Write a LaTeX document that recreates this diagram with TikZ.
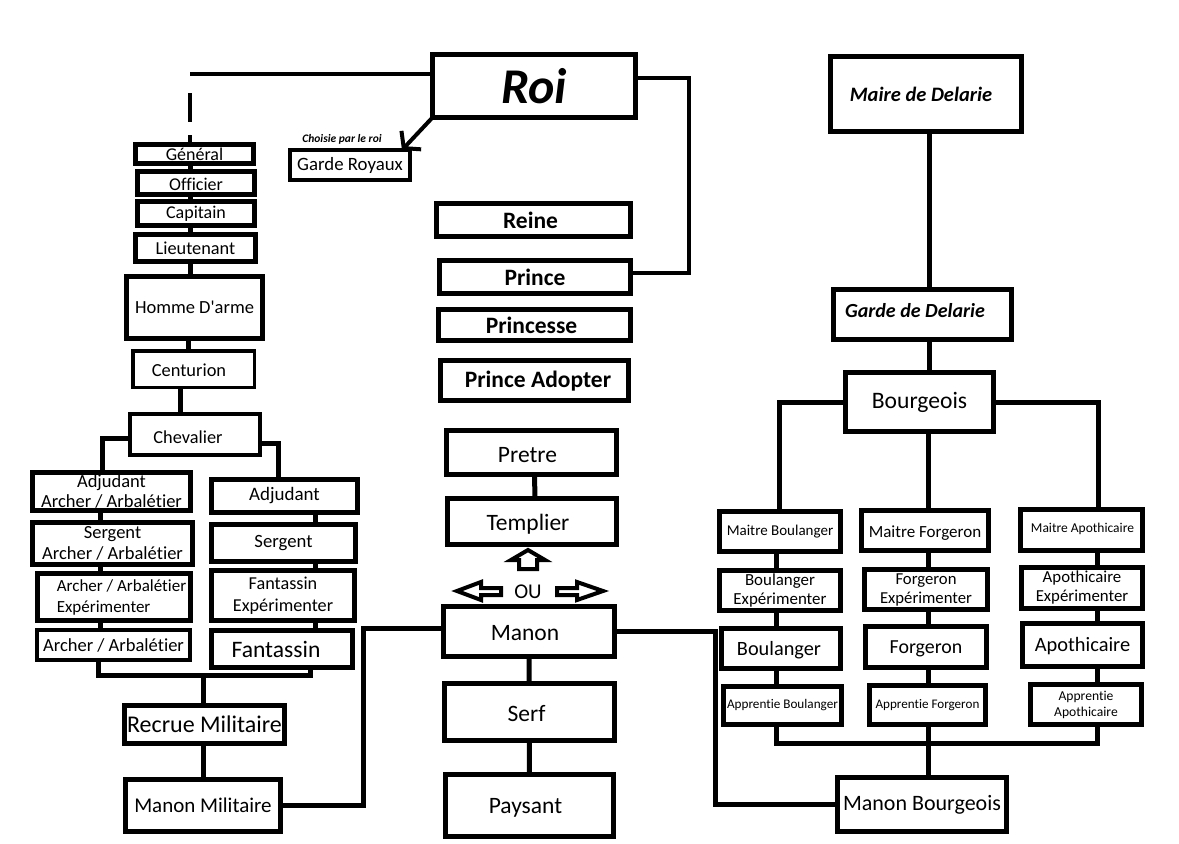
\documentclass[tikz,border=0pt]{standalone}
\usepackage{fontspec}
\setmainfont{Carlito}[Ligatures=NoCommon]
\usetikzlibrary{arrows.meta,backgrounds}
\newcommand\myfs[2]{\fontsize{#1}{#2}\selectfont}
\newcommand\mv[3]{\hspace*{#1}\raisebox{#2}[\height][\depth]{#3}}
\tikzset{
  box/.style={draw, line width=5pt, fill=white, inner sep=0pt, outer sep=0pt, align=center},
  conn/.style={line width=5pt},
  thinc/.style={line width=3.5pt},
  blockarrow/.style={draw, line width=4pt, line join=miter, fill=white},
}
\begin{document}
\begin{tikzpicture}[x=1pt,y=-1pt]
\useasboundingbox (0,0) rectangle (1179,844);
% ---------- top / royal ----------
\node[box, minimum width=203pt, minimum height=63pt, font=\myfs{50}{50}\bfseries\itshape] (Roi) at (534,86) {Roi};
\node[box, line width=4pt, minimum width=120pt, minimum height=30pt, font=\myfs{18.8}{20}] (GR) at (350,165) {Garde Royaux};
\node[inner sep=0pt, font=\myfs{11.5}{12}\bfseries\itshape] (ch) at (342,139) {Choisie par le roi};
% ---------- left military column ----------
\node[box, minimum width=118pt, minimum height=19pt, font=\myfs{18}{19}] (Gen) at (194.5,154) {Général};
\node[box, minimum width=117pt, minimum height=23pt, font=\myfs{18}{19}] (Off) at (196,183) {\mv{0pt}{-1.5pt}{Officier}};
\node[box, minimum width=117pt, minimum height=24pt, font=\myfs{18}{19}] (Cap) at (196,213.5) {Capitain};
\node[box, minimum width=120pt, minimum height=27pt, font=\myfs{18.3}{19}] (Lt) at (195.5,248) {Lieutenant};
\node[box, minimum width=136pt, minimum height=62pt, font=\myfs{18.5}{19}] (HA) at (194.5,307.5) {Homme D\textquotesingle arme};
\node[box, line width=3.5pt, minimum width=121.5pt, minimum height=36.5pt, font=\myfs{18.4}{19}] (Cen) at (193.5,369) {\mv{-9pt}{-1.5pt}{Centurion}};
\node[box, line width=4pt, minimum width=130pt, minimum height=41pt, font=\myfs{18.3}{19}] (Chev) at (195,434.5) {\mv{-14pt}{-3pt}{Chevalier}};
\node[box, minimum width=158pt, minimum height=38pt, font=\myfs{18.5}{20}] (AdjA) at (111.5,491.5) {Adjudant\\Archer / Arbalétier};
\node[box, minimum width=160pt, minimum height=42pt, font=\myfs{18.5}{21}] (SgtA) at (112.5,543.5) {Sergent\\Archer / Arbalétier};
\node[box, align=left, minimum width=153pt, minimum height=47pt, font=\myfs{17}{21}] (ExpA) at (114,597) {\hspace*{15pt}Archer / Arbalétier\\\hspace*{15pt}Expérimenter};
\node[box, line width=4pt, minimum width=153pt, minimum height=30pt, font=\myfs{18.5}{19}] (ArchA) at (113.5,645) {Archer / Arbalétier};
\node[box, minimum width=146pt, minimum height=33pt, font=\myfs{19}{20}] (Adj) at (284.5,496) {Adjudant};
\node[box, minimum width=144pt, minimum height=37pt, font=\myfs{18.7}{20}] (Sgt) at (283.5,543) {Sergent};
\node[box, minimum width=143pt, minimum height=50pt, font=\myfs{18.2}{22}] (FantE) at (283,595.5) {Fantassin\\Expérimenter};
\node[box, minimum width=141pt, minimum height=37pt, font=\myfs{23.6}{24}] (Fant) at (282,649) {\mv{-12pt}{0pt}{Fantassin}};
\node[box, minimum width=160pt, minimum height=38pt, font=\myfs{24}{25}] (Rec) at (204.5,724.5) {Recrue Militaire};
\node[box, minimum width=155pt, minimum height=52pt, font=\myfs{21}{22}] (MMil) at (203,805.5) {Manon Militaire};
% ---------- centre ----------
\node[box, minimum width=194pt, minimum height=33pt, font=\myfs{23.5}{24}\bfseries] (Reine) at (533.5,220) {\mv{-6pt}{0pt}{Reine}};
\node[box, minimum width=191pt, minimum height=33pt, font=\myfs{23.5}{24}\bfseries] (Prince) at (535,277) {Prince};
\node[box, minimum width=192pt, minimum height=31pt, font=\myfs{23.5}{24}\bfseries] (Princesse) at (534.5,325) {\mv{-6pt}{0pt}{Princesse}};
\node[box, minimum width=188pt, minimum height=40pt, font=\myfs{23.5}{24}\bfseries] (PA) at (534.5,380.5) {\mv{7pt}{-1pt}{Prince Adopter}};
\node[box, minimum width=170pt, minimum height=44pt, font=\myfs{23.5}{24}] (Pretre) at (531.5,452.5) {\mv{-8pt}{-2.5pt}{Pretre}};
\node[box, minimum width=169pt, minimum height=46pt, font=\myfs{23.5}{24}] (Templier) at (532,521.5) {\mv{-8pt}{-2.5pt}{Templier}};
\node[box, minimum width=171pt, minimum height=50pt, font=\myfs{23.5}{24}] (Manon) at (529,631.5) {\mv{-8pt}{-1.5pt}{Manon}};
\node[box, minimum width=170pt, minimum height=57pt, font=\myfs{23.5}{24}] (Serf) at (529.5,712) {\mv{-6pt}{-1.5pt}{Serf}};
\node[box, minimum width=168pt, minimum height=62pt, font=\myfs{23.5}{24}] (Pays) at (529.5,805.5) {\mv{-8pt}{-2pt}{Paysant}};
\node[inner sep=0pt, font=\myfs{21}{22}] (OU) at (528,592) {OU};
% ---------- right / bourgeois ----------
\node[box, minimum width=191pt, minimum height=75pt, font=\myfs{20.5}{21}\bfseries\itshape] (Maire) at (926,94) {\mv{-10pt}{0pt}{Maire de Delarie}};
\node[box, minimum width=178pt, minimum height=50pt, font=\myfs{20}{21}\bfseries\itshape] (GardeD) at (922.5,314.5) {\mv{-15pt}{3.5pt}{Garde de Delarie}};
\node[box, minimum width=148pt, minimum height=59pt, font=\myfs{23.6}{24}] (Bourg) at (919.5,402) {Bourgeois};
\node[box, minimum width=121pt, minimum height=40pt, font=\myfs{15}{16}] (MB) at (780,531.5) {Maitre Boulanger};
\node[box, minimum width=121pt, minimum height=40pt, font=\myfs{16.9}{19}] (BE) at (780,590.5) {Boulanger\\Expérimenter};
\node[box, minimum width=119pt, minimum height=40pt, font=\myfs{20.3}{21}] (Bl) at (781,648.5) {\mv{-4pt}{-2pt}{Boulanger}};
\node[box, minimum width=118pt, minimum height=38pt, font=\myfs{13.2}{14}] (AB) at (782.5,705.5) {Apprentie Boulanger};
\node[box, minimum width=127pt, minimum height=40pt, font=\myfs{17}{18}] (MF) at (925,530.5) {\mv{0pt}{-3pt}{Maitre Forgeron}};
\node[box, minimum width=123pt, minimum height=40pt, font=\myfs{16.7}{19}] (FE) at (926,589.5) {Forgeron\\Expérimenter};
\node[box, minimum width=121pt, minimum height=41pt, font=\myfs{19.9}{21}] (Fg) at (926,647) {\mv{0pt}{-1.5pt}{Forgeron}};
\node[box, minimum width=116pt, minimum height=39pt, font=\myfs{13.1}{14}] (AF) at (927.5,705) {Apprentie Forgeron};
\node[box, minimum width=122pt, minimum height=41pt, font=\myfs{13.5}{14}] (MA) at (1081.5,530) {\mv{2pt}{1pt}{Maitre Apothicaire}};
\node[box, minimum width=121pt, minimum height=41pt, font=\myfs{16.8}{19}] (AE) at (1082,588) {Apothicaire\\Expérimenter};
\node[box, minimum width=120pt, minimum height=43pt, font=\myfs{20.4}{21}] (Ap) at (1082.5,645) {\mv{0pt}{-1pt}{Apothicaire}};
\node[box, minimum width=111pt, minimum height=40pt, font=\myfs{13.6}{16}] (AA) at (1086,704.5) {Apprentie\\Apothicaire};
\node[box, minimum width=169pt, minimum height=54pt, font=\myfs{22}{23}] (MB2) at (922,804.5) {Manon Bourgeois};
% ---------- connectors (behind boxes) ----------
\begin{pgfonlayer}{background}
\fill[white] (0,0) rectangle (1179,844);
\coordinate (kL) at (190,74);
\draw[thinc] ([yshift=12pt]Roi.west) -- (kL);
\draw[thinc, dash pattern=on 0pt off 19pt on 29pt off 13pt on 40pt] (kL) -- (Gen.north -| kL);
\draw[conn] (Gen.south -| kL) -- (HA.north -| kL);
\coordinate (x188) at (188,0);
\draw[conn] (HA.south -| x188) -- (Cen.north -| x188);
\coordinate (x180) at (180,0);
\draw[conn] (Cen.south -| x180) -- (Chev.north -| x180);
\draw[conn] ([yshift=-3.5pt]Chev.west) -| ([xshift=-9.5pt]AdjA.north);
\draw[conn] ([yshift=-8.5pt]Chev.east) -| ([xshift=-6.5pt]Adj.north);
\coordinate (xL) at (100,0);
\draw[conn] (AdjA.south -| xL) -- (ArchA.north -| xL);
\coordinate (xR) at (315,0);
\draw[conn] (Adj.south -| xR) -- (Fant.north -| xR);
\coordinate (bL) at (98,675);
\coordinate (bR) at (310,675);
\coordinate (bC) at (203,675);
\draw[conn] (ArchA.south -| bL) -- (bL) -- (bR) -- (Fant.south -| bR);
\draw[conn] (bC) -- (Rec.north -| bC);
\draw[conn] (Rec.south -| bC) -- (MMil.north -| bC);
\coordinate (mL) at (363,628);
\draw[conn] (MMil.east) -| (mL) -- (Manon.west |- mL);
\coordinate (mR) at (715,700);
\draw[conn] (Manon.east) -| (mR) |- (MB2.west);
\draw[conn] (Manon) -- (Pays);
\draw[conn] ([xshift=3pt]Pretre.south) -- ([xshift=3pt]Templier.north);
\coordinate (rp1) at (689,78);
\coordinate (rp2) at (689,273);
\draw[thinc] ([yshift=8pt]Roi.east) -- (rp1) -- (rp2) -- ([yshift=4pt]Prince.east);
\coordinate (xM) at (929,0);
\draw[conn] (Maire.south -| xM) -- (Bourg.north -| xM);
\coordinate (xBL) at (779,0);
\draw[conn] (Bourg.west) -| (MB.north -| xBL);
\coordinate (xF) at (928,0);
\draw[conn] (Bourg.south -| xF) -- (MF.north -| xF);
\coordinate (xA) at (1098,0);
\draw[conn] (Bourg.east) -| (MA.north -| xA);
\coordinate (cb1) at (776,743);
\coordinate (cb2) at (1097,743);
\draw[conn] (MB.south -| cb1) -- (cb1) -- (cb2) -- (MA.south -| cb2);
\draw[conn] (MF.south -| xF) -- (MB2.north -| xF);
\end{pgfonlayer}
% ---------- arrow to Garde Royaux ----------
\draw[line width=4pt, -{Straight Barb[length=11pt,width=27pt]}] (Roi.south west) -- ([xshift=-8pt]GR.north east);
% ---------- block arrows around OU ----------
\draw[blockarrow] (528,550) -- (545,560) -- (537,560) -- (537,569) -- (519,569) -- (519,560) -- (511,560) -- cycle;
\draw[blockarrow] (457,591) -- (481,582) -- (481,588) -- (501,588) -- (501,595) -- (481,595) -- (481,600) -- cycle;
\draw[blockarrow] (557,588) -- (577,588) -- (577,582) -- (603,591) -- (577,600) -- (577,595) -- (557,595) -- cycle;
\end{tikzpicture}
\end{document}
